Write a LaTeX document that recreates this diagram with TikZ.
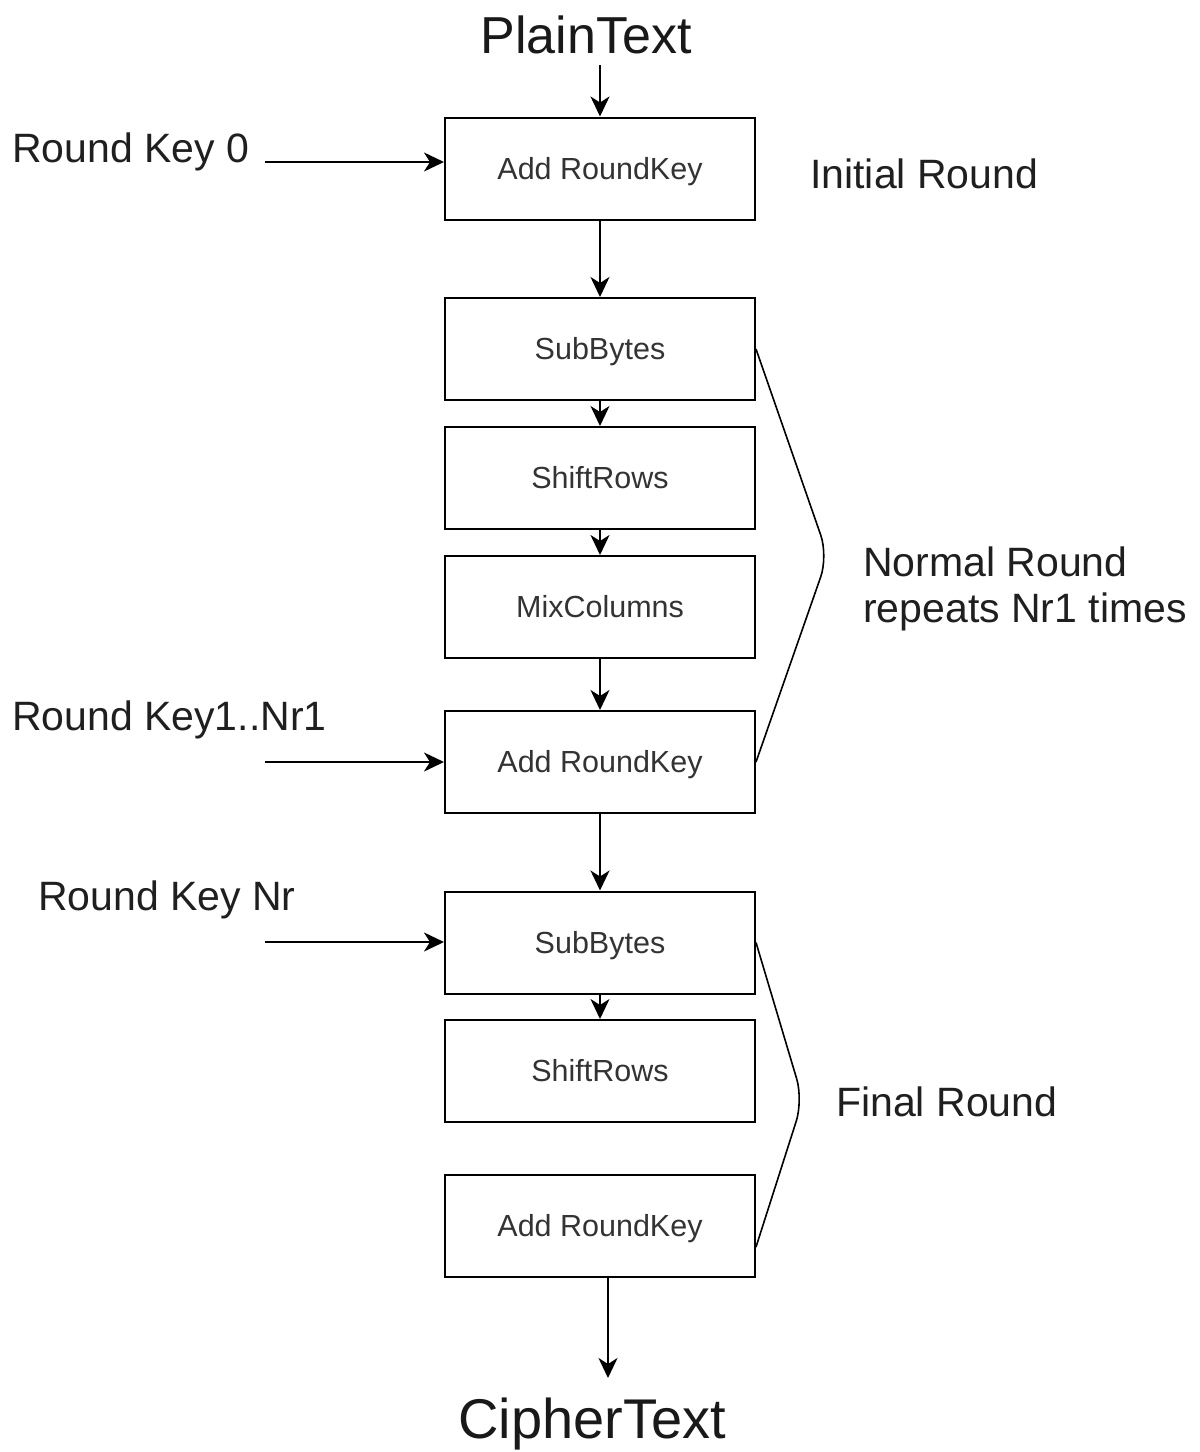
\documentclass[tikz,border=0pt]{standalone}
\usepackage{fontspec}
\setmainfont{Liberation Sans}
\usetikzlibrary{arrows.meta,calc}
\begin{document}
\begin{tikzpicture}[x=1pt,y=-1pt,
  stage/.style={draw=black,line width=2pt,minimum width=310pt,minimum height=102pt,inner sep=0pt,
    text height=21.8pt,text depth=0pt,
    text=black!80,font=\fontsize{30.5}{36}\selectfont},
  lbl/.style={anchor=base west,inner sep=0pt,text=black!88,font=\fontsize{41}{49}\selectfont},
  big/.style={anchor=base,inner sep=0pt,text=black!90},
  flow/.style={line width=2pt,-{Stealth[length=20pt,width=19pt,inset=6pt]}},
  brace/.style={line width=1.6pt,rounded corners=22pt}]
\useasboundingbox (0,0) rectangle (1200,1452);
\node[big,font=\fontsize{52}{60}\selectfont] (pt) at (586,53) {PlainText};
\node[big,font=\fontsize{56}{64}\selectfont] (ct) at (592,1438) {CipherText};

\node[stage] (b1) at (600,168.5) {Add RoundKey};
\node[stage] (b2) at (600,349) {SubBytes};
\node[stage] (b3) at (600,478) {ShiftRows};
\node[stage] (b4) at (600,607) {MixColumns};
\node[stage] (b5) at (600,762) {Add RoundKey};
\node[stage] (b6) at (600,942.5) {SubBytes};
\node[stage] (b7) at (600,1071) {ShiftRows};
\node[stage] (b8) at (600,1226) {Add RoundKey};

\node[lbl] (k0) at (12,162) {Round Key 0};
\node[lbl] (k1) at (12,730) {Round Key1..Nr1};
\node[lbl] (kn) at (38,910) {Round Key Nr};
\node[lbl] (ir) at (810,188) {Initial Round};
\node[lbl] (nr1) at (863,576) {Normal Round};
\node[lbl] (nr2) at (863,622) {repeats Nr1 times};
\node[lbl] (fr) at (836,1116) {Final Round};

\coordinate (ptend) at (600,65);
\coordinate (k0s) at (265,162);
\coordinate (k1s) at (265,762);
\coordinate (kns) at (265,942);
\coordinate (ctend) at (608,1378);
\coordinate (nrap) at (828,556);
\coordinate (frap) at (803,1100);

\draw[flow] (ptend) -- (b1.north);
\draw[flow] (b1) -- (b2);
\draw[flow] (b2) -- (b3);
\draw[flow] (b3) -- (b4);
\draw[flow] (b4) -- (b5);
\draw[flow] (b5) -- (b6);
\draw[flow] (b6) -- (b7);
\draw[flow] (b8.south -| ctend) -- (ctend);
\draw[flow] (k0s) -- (k0s -| b1.west);
\draw[flow] (k1s) -- (k1s -| b5.west);
\draw[flow] (kns) -- (kns -| b6.west);

\draw[brace] (b2.east) -- (nrap) -- (b5.east);
\draw[brace] (b6.east) -- (frap) -- ($(b8.east)+(0,21)$);
\end{tikzpicture}
\end{document}
